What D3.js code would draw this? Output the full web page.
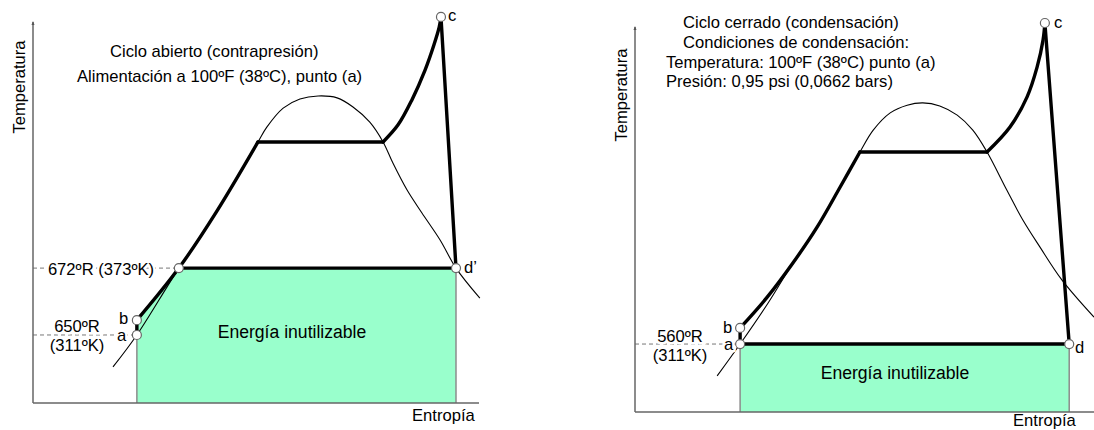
<!DOCTYPE html>
<html>
<head>
<meta charset="utf-8">
<title>Ciclos T-s</title>
<script src="https://cdn.jsdelivr.net/npm/d3@7"></script>
<style>
  body { margin: 0; background: #fff; }
  svg text { font-family: "Liberation Sans", Arial, sans-serif; fill: #000; }
</style>
</head>
<body>
<svg id="chart" width="1094" height="430"></svg>
<script>
// values are [entropy, temperature] in relative units 0-100 (no scale on the original)

// --- left: ciclo abierto ---
var leftSaturation = [[18.1,9.5],[23.5,17.9],[30.3,30.5],[33.0,35.5],[41.6,50.5],
  [50.9,68.7],[52.9,72.6],[56.6,77.6],[60.4,80.0],[64.5,80.8],[68.8,80.3],[72.4,77.9],[76.2,73.9],
  [79.2,68.7],[81.4,63.2],[84.6,56.1],[88.0,50.0],[92.1,42.9],[95.7,35.5],[101.1,27.6]];
var leftLiquid = [[23.5,21.8],[33.0,35.5],[41.6,50.5],[50.9,68.7]];
var leftSuperheat = [[79.2,68.7],[82.6,73.2],[85.7,79.7],[88.7,87.6],[90.7,94.2],[91.9,98.9],[92.3,101.6]];
var leftStates = {a:[23.5,17.9], b:[23.5,21.8], f:[33.0,35.5], c:[92.3,101.6], d:[95.7,35.5]};
var leftTitle = ["Ciclo abierto (contrapresión)", "Alimentación a 100ºF (38ºC), punto (a)"];

// --- right: ciclo cerrado ---
var rightSaturation = [[17.9,9.4],[22.9,17.7],[29.0,28.4],[34.4,38.8],[39.7,48.2],[44.7,58.6],[49.0,67.7],
  [51.9,73.4],[55.6,77.9],[59.3,79.9],[62.7,80.5],[66.4,79.7],[70.2,77.3],[73.6,73.4],[76.7,67.7],
  [81.0,57.8],[84.5,50.0],[88.2,43.0],[93.0,34.4],[100,24.7]];
var rightLiquid = [[22.9,21.9],[28.8,29.9],[34.4,38.8],[39.7,48.2],[44.7,58.6],[49.0,67.7]];
var rightSuperheat = [[76.7,67.7],[81.7,74.2],[85.4,82.0],[87.6,89.8],[88.9,96.9],[89.3,101.3]];
var rightStates = {a:[22.9,17.7], b:[22.9,21.9], c:[89.3,101.3], d:[94.6,17.7]};
var rightTitle = ["Ciclo cerrado (condensación)", "Condiciones de condensación:",
  "Temperatura: 100ºF (38ºC) punto (a)", "Presión: 0,95 psi (0,0662 bars)"];

var svg = d3.select("#chart");
var fs = 16.6;

function drawPanel(p) {
  var x = d3.scaleLinear().domain([0, 100]).range(p.xRange);
  var y = d3.scaleLinear().domain([0, 100]).range(p.yRange);
  var line = d3.line().x(function(d) { return x(d[0]); }).y(function(d) { return y(d[1]); });
  var smooth = d3.line().x(function(d) { return x(d[0]); }).y(function(d) { return y(d[1]); })
      .curve(d3.curveCatmullRom.alpha(0.5));
  var g = svg.append("g");
  var st = p.states;

  // unusable energy area
  g.append("path").attr("d", line(p.fill)).attr("fill", "#99ffcc").attr("stroke", "none");
  [st.a, st.d].forEach(function(s) {
    g.append("line").attr("x1", x(s[0])).attr("x2", x(s[0])).attr("y1", y(0)).attr("y2", y(s[1]))
      .attr("stroke", "#8c8c8c").attr("stroke-width", 1.5);
  });

  // dashed level lines
  p.levels.forEach(function(t) {
    g.append("line").attr("x1", x(0)).attr("x2", x(t[0])).attr("y1", y(t[1])).attr("y2", y(t[1]))
      .attr("stroke", "#777").attr("stroke-width", 1).attr("stroke-dasharray", "4,3");
  });

  // axes
  g.append("line").attr("x1", x(0)).attr("x2", x(0)).attr("y1", y(0)).attr("y2", y(100) - 1)
    .attr("stroke", "#666").attr("stroke-width", 1.5);
  g.append("path").attr("d", "M" + (x(0) - 1.5) + "," + (y(100) + 2) + "L" + x(0) + "," + (y(100) - 2) + "L" + (x(0) + 1.5) + "," + (y(100) + 2) + "Z")
    .attr("fill", "#555");
  g.append("line").attr("x1", x(0)).attr("x2", p.xAxisEnd).attr("y1", y(0)).attr("y2", y(0))
    .attr("stroke", "#666").attr("stroke-width", 1.5);

  // saturation dome
  g.append("path").attr("d", smooth(p.saturation)).attr("fill", "none").attr("stroke", "#000").attr("stroke-width", 1.1);

  // cycle
  var thick = function(d, c) {
    g.append("path").attr("d", (c ? smooth : line)(d)).attr("fill", "none").attr("stroke", "#000")
      .attr("stroke-width", 3.4).attr("stroke-linejoin", "round").attr("stroke-linecap", "round");
  };
  var liq = p.liquid, sh = p.superheat;
  thick([st.a, st.b]);
  thick(liq, true);
  thick([liq[liq.length - 1], sh[0]]);
  thick(sh, true);
  thick([st.c, st.d]);
  thick([st.d, p.rejectTo]);

  // state circles
  p.circles.forEach(function(k) {
    g.append("circle").attr("cx", x(st[k][0])).attr("cy", y(st[k][1])).attr("r", 4.5)
      .attr("fill", "#fff").attr("stroke", "#666").attr("stroke-width", 1.2);
  });

  // texts
  p.texts.forEach(function(t) {
    var el = g.append("text").attr("x", t.x).attr("y", t.y).attr("font-size", t.size || fs)
      .attr("text-anchor", t.anchor || "start").text(t.s);
    if (t.halo) el.attr("stroke", "#fff").attr("stroke-width", 5).attr("paint-order", "stroke");
    if (t.rot) el.attr("transform", "rotate(-90," + t.x + "," + t.y + ")");
  });
}

var ls = leftStates;
drawPanel({
  xRange: [33, 475], yRange: [403, 23], xAxisEnd: 479,
  saturation: leftSaturation, liquid: leftLiquid, superheat: leftSuperheat, states: ls,
  fill: [[ls.a[0], 0], ls.a, ls.b, ls.f, ls.d, [ls.d[0], 0]],
  levels: [ls.f, ls.a], rejectTo: ls.f, circles: ["a", "b", "f", "d", "c"],
  texts: [
    {s: leftTitle[0], x: 110, y: 57},
    {s: leftTitle[1], x: 77, y: 82},
    {s: "Temperatura", x: 25, y: 87, anchor: "middle", rot: true},
    {s: "672ºR (373ºK)", x: 101, y: 275, anchor: "middle", halo: true},
    {s: "650ºR", x: 77, y: 332, anchor: "middle", halo: true},
    {s: "(311ºK)", x: 77, y: 351, anchor: "middle", halo: true},
    {s: "b", x: 119, y: 324, halo: true},
    {s: "a", x: 117, y: 341, halo: true},
    {s: "c", x: 448, y: 21},
    {s: "d’", x: 464, y: 273},
    {s: "Energía inutilizable", x: 292, y: 338, anchor: "middle", size: 17.6},
    {s: "Entropía", x: 412, y: 421}
  ]
});

var rs = rightStates;
drawPanel({
  xRange: [635, 1094], yRange: [412, 28], xAxisEnd: 1094,
  saturation: rightSaturation, liquid: rightLiquid, superheat: rightSuperheat, states: rs,
  fill: [[rs.a[0], 0], rs.a, rs.d, [rs.d[0], 0]],
  levels: [rs.a], rejectTo: rs.a, circles: ["a", "b", "d", "c"],
  texts: [
    {s: rightTitle[0], x: 683, y: 28},
    {s: rightTitle[1], x: 683, y: 48},
    {s: rightTitle[2], x: 666, y: 68},
    {s: rightTitle[3], x: 666, y: 87},
    {s: "Temperatura", x: 627, y: 95, anchor: "middle", rot: true},
    {s: "560ºR", x: 680, y: 342, anchor: "middle", halo: true},
    {s: "(311ºK)", x: 680, y: 361, anchor: "middle", halo: true},
    {s: "b", x: 723, y: 333, halo: true},
    {s: "a", x: 724, y: 350, halo: true},
    {s: "c", x: 1054, y: 28},
    {s: "d", x: 1075, y: 353},
    {s: "Energía inutilizable", x: 895, y: 379, anchor: "middle", size: 17.6},
    {s: "Entropía", x: 1013, y: 426}
  ]
});
</script>
</body>
</html>
